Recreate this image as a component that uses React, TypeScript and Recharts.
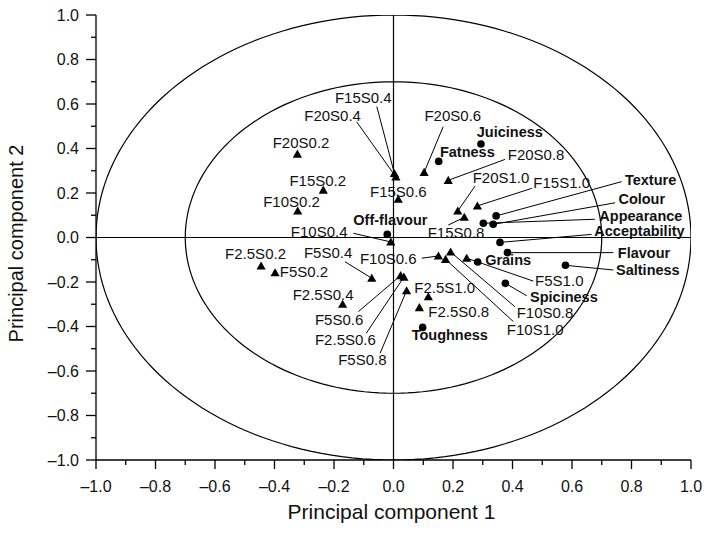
import React from 'react';
import { ScatterChart, Scatter, XAxis, YAxis, ReferenceLine } from 'recharts';

// Sample scores (triangles)
const sampleNames = [
  'F2.5S0.2', 'F2.5S0.4', 'F2.5S0.6', 'F2.5S0.8', 'F2.5S1.0',
  'F5S0.2', 'F5S0.4', 'F5S0.6', 'F5S0.8', 'F5S1.0',
  'F10S0.2', 'F10S0.4', 'F10S0.6', 'F10S0.8', 'F10S1.0',
  'F15S0.2', 'F15S0.4', 'F15S0.6', 'F15S0.8', 'F15S1.0',
  'F20S0.2', 'F20S0.4', 'F20S0.6', 'F20S0.8', 'F20S1.0',
];
const samplePc1 = [
  -0.445, -0.171, 0.035, 0.087, 0.117,
  -0.398, -0.073, 0.024, 0.044, 0.246,
  -0.322, -0.009, 0.151, 0.192, 0.175,
  -0.236, 0.003, 0.016, 0.238, 0.282,
  -0.323, 0.008, 0.103, 0.184, 0.216,
];
const samplePc2 = [
  -0.128, -0.3, -0.178, -0.315, -0.266,
  -0.158, -0.183, -0.171, -0.239, -0.093,
  0.119, -0.02, -0.083, -0.065, -0.098,
  0.213, 0.288, 0.172, 0.091, 0.142,
  0.375, 0.272, 0.293, 0.257, 0.119,
];

// Attribute loadings (circles)
const attributeNames = [
  'Juiciness', 'Fatness', 'Texture', 'Colour', 'Appearance', 'Acceptability',
  'Flavour', 'Saltiness', 'Grains', 'Spiciness', 'Toughness', 'Off-flavour',
];
const attributePc1 = [0.294, 0.152, 0.345, 0.335, 0.302, 0.358, 0.383, 0.578, 0.283, 0.376, 0.098, -0.021];
const attributePc2 = [0.42, 0.342, 0.097, 0.059, 0.064, -0.022, -0.068, -0.125, -0.11, -0.206, -0.404, 0.014];

const axisTicks = [-1, -0.9, -0.8, -0.7, -0.6, -0.5, -0.4, -0.3, -0.2, -0.1, 0, 0.1, 0.2, 0.3, 0.4, 0.5, 0.6, 0.7, 0.8, 0.9, 1];
const tickLabels = ['–1.0', '–0.8', '–0.6', '–0.4', '–0.2', '0.0', '0.2', '0.4', '0.6', '0.8', '1.0'];

const circleRadii = [1, 0.7];

// where each label text starts (data units, left edge / baseline)
const labelAt: Record<string, [number, number]> = {
  'F15S0.4': [-0.197, 0.603], 'F20S0.4': [-0.3, 0.525], 'F20S0.6': [0.104, 0.525],
  'F20S0.2': [-0.406, 0.404], 'F15S0.2': [-0.35, 0.233], 'F10S0.2': [-0.438, 0.138],
  'F15S0.6': [-0.079, 0.183], 'F10S0.4': [-0.345, 0.004], 'F15S0.8': [0.115, -0.004],
  'F20S0.8': [0.384, 0.348], 'F20S1.0': [0.266, 0.244], 'F15S1.0': [0.47, 0.221],
  'F5S1.0': [0.476, -0.216], 'F10S0.8': [0.414, -0.363], 'F10S1.0': [0.381, -0.438],
  'F2.5S1.0': [0.07, -0.251], 'F2.5S0.8': [0.117, -0.359], 'F10S0.6': [-0.113, -0.12],
  'F2.5S0.2': [-0.566, -0.097], 'F5S0.2': [-0.382, -0.176], 'F5S0.4': [-0.301, -0.093],
  'F2.5S0.4': [-0.339, -0.281], 'F5S0.6': [-0.264, -0.393], 'F2.5S0.6': [-0.264, -0.483],
  'F5S0.8': [-0.186, -0.573],
  Juiciness: [0.28, 0.453], Fatness: [0.156, 0.363], 'Off-flavour': [-0.135, 0.056],
  Texture: [0.778, 0.236], Colour: [0.756, 0.151], Appearance: [0.692, 0.076],
  Acceptability: [0.675, 0.007], Flavour: [0.754, -0.091], Saltiness: [0.748, -0.169],
  Grains: [0.308, -0.124], Spiciness: [0.459, -0.29], Toughness: [0.061, -0.461],
};

// leader line start points (data units)
const leaderFrom: Record<string, [number, number]> = {
  'F15S0.4': [-0.056, 0.588], 'F20S0.4': [-0.124, 0.52], 'F20S0.6': [0.167, 0.498],
  'F10S0.4': [-0.135, 0.019], 'F15S0.8': [0.184, 0.056], 'F20S0.8': [0.375, 0.351],
  'F20S1.0': [0.274, 0.231], 'F15S1.0': [0.465, 0.221], Texture: [0.767, 0.251],
  Colour: [0.745, 0.156], Appearance: [0.677, 0.082], Acceptability: [0.666, 0.014],
  Flavour: [0.739, -0.068], Saltiness: [0.739, -0.146], 'F5S1.0': [0.47, -0.196],
  Spiciness: [0.448, -0.262], 'F10S0.8': [0.408, -0.311], 'F10S1.0': [0.403, -0.378],
  'F10S0.6': [0.095, -0.093], 'F5S0.4': [-0.163, -0.109], 'F5S0.6': [-0.118, -0.333],
  'F2.5S0.6': [-0.092, -0.431], 'F5S0.8': [-0.045, -0.52],
};

const FONT = '"Liberation Sans", Arial, Helvetica, sans-serif';

const samples = sampleNames.map((name, i) => ({ name, x: samplePc1[i], y: samplePc2[i] }));
const attributes = attributeNames.map((name, i) => ({ name, x: attributePc1[i], y: attributePc2[i] }));
const labels = [
  ...samples.map((s) => ({ name: s.name, bold: false, x: labelAt[s.name][0], y: labelAt[s.name][1] })),
  ...attributes.map((a) => ({ name: a.name, bold: true, x: labelAt[a.name][0], y: labelAt[a.name][1] })),
];
const leaders = [...samples, ...attributes]
  .filter((p) => leaderFrom[p.name])
  .map((p) => ({ name: p.name, from: leaderFrom[p.name], to: [p.x, p.y] }));

// correlation circles (reference outlines, not data)
const circles = circleRadii.map((r) => {
  const pts = [];
  for (let k = 0; k <= 180; k++) {
    const t = (k / 180) * Math.PI * 2;
    pts.push({ x: r * Math.cos(t), y: r * Math.sin(t) });
  }
  return pts;
});

const isMajor = (v: number) => Math.round((v + 1) * 10) % 2 === 0;
const tickText = (v: number) => tickLabels[Math.round((v + 1) * 5)];

const XTick = (props: any) => {
  const { x, y, payload } = props;
  const major = isMajor(payload.value);
  return (
    <g>
      <line x1={x} y1={y} x2={x} y2={y + (major ? 9 : 5)} stroke="#000" strokeWidth={1.3} />
      {major && (
        <text x={x} y={y + 32} textAnchor="middle" fontSize={16} fontFamily={FONT} fill="#111">
          {tickText(payload.value)}
        </text>
      )}
    </g>
  );
};

const YTick = (props: any) => {
  const { x, y, payload } = props;
  const major = isMajor(payload.value);
  return (
    <g>
      <line x1={x} y1={y} x2={x - (major ? 10 : 5)} y2={y} stroke="#000" strokeWidth={1.3} />
      {major && (
        <text x={x - 17} y={y} dy="0.36em" textAnchor="end" fontSize={16} fontFamily={FONT} fill="#111">
          {tickText(payload.value)}
        </text>
      )}
    </g>
  );
};

const XTitle = (props: any) => {
  const vb = props.viewBox || { x: 96, y: 460, width: 595, height: 78 };
  return (
    <text x={vb.x + vb.width / 2 - 2} y={vb.y + 59} textAnchor="middle" fontSize={21} fontFamily={FONT} fill="#111">
      Principal component 1
    </text>
  );
};

const YTitle = (props: any) => {
  const vb = props.viewBox || { x: 0, y: 15, width: 96, height: 445 };
  const cx = vb.x + 16;
  const cy = vb.y + vb.height / 2 + 6;
  return (
    <text x={cx} y={cy} dy="0.35em" transform={`rotate(-90 ${cx} ${cy})`} textAnchor="middle" fontSize={20} fontFamily={FONT} fill="#111">
      Principal component 2
    </text>
  );
};

const Triangle = (props: any) => {
  const { cx, cy } = props;
  return <polygon points={`${cx},${cy - 4.5} ${cx - 4.6},${cy + 3.6} ${cx + 4.6},${cy + 3.6}`} fill="#000" />;
};

const Dot = (props: any) => <circle cx={props.cx} cy={props.cy} r={3.8} fill="#000" />;

const LabelText = (props: any) => {
  const { cx, cy, payload } = props;
  return (
    <text
      x={cx}
      y={cy}
      fontSize={payload.bold ? 14.5 : 15}
      fontWeight={payload.bold ? 'bold' : 'normal'}
      fontFamily={FONT}
      fill="#111"
    >
      {payload.name}
    </text>
  );
};

export default function App() {
  return (
    <div style={{ position: 'absolute', left: 0, top: 0, background: '#fff' }}>
      <ScatterChart width={709} height={538} margin={{ top: 15, right: 18, bottom: 0, left: 0 }}>
        <XAxis
          type="number"
          dataKey="x"
          domain={[-1, 1]}
          ticks={axisTicks}
          interval={0}
          allowDataOverflow
          height={78}
          tickSize={0}
          tickMargin={0}
          tickLine={false}
          tick={<XTick />}
          axisLine={{ stroke: '#000', strokeWidth: 1.3 }}
          label={{ content: <XTitle /> }}
        />
        <YAxis
          type="number"
          dataKey="y"
          domain={[-1, 1]}
          ticks={axisTicks}
          interval={0}
          allowDataOverflow
          width={96}
          tickSize={0}
          tickMargin={0}
          tickLine={false}
          tick={<YTick />}
          axisLine={{ stroke: '#000', strokeWidth: 1.3 }}
          label={{ content: <YTitle /> }}
        />
        {circles.map((pts, i) => (
          <Scatter
            key={`circle-${i}`}
            data={pts}
            line={{ stroke: '#000', strokeWidth: 1.2 }}
            lineType="joint"
            shape={() => <g />}
            isAnimationActive={false}
          />
        ))}
        <ReferenceLine x={0} stroke="#000" strokeWidth={1.2} />
        <ReferenceLine y={0} stroke="#000" strokeWidth={1.2} />
        {leaders.map((l) => (
          <ReferenceLine
            key={`lead-${l.name}`}
            segment={[{ x: l.from[0], y: l.from[1] }, { x: l.to[0], y: l.to[1] }]}
            stroke="#000"
            strokeWidth={1}
            ifOverflow="visible"
          />
        ))}
        <Scatter data={samples} shape={<Triangle />} isAnimationActive={false} />
        <Scatter data={attributes} shape={<Dot />} isAnimationActive={false} />
        <Scatter data={labels} shape={<LabelText />} isAnimationActive={false} />
      </ScatterChart>
    </div>
  );
}
